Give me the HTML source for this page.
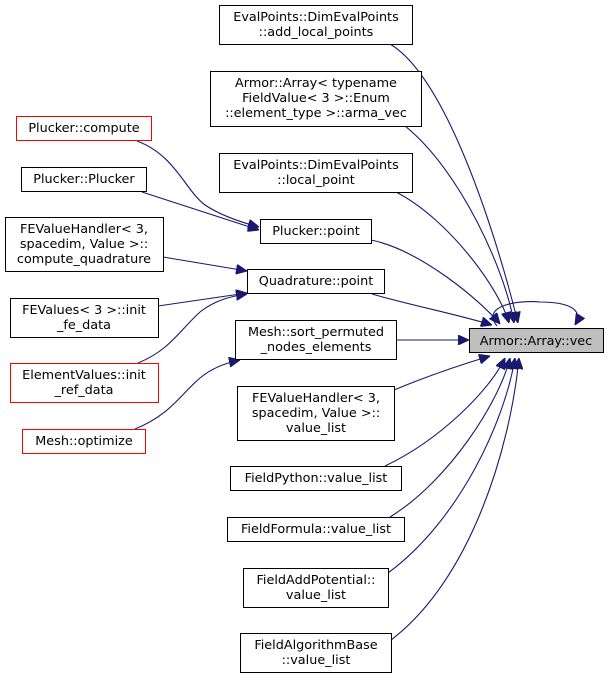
<!DOCTYPE html>
<html><head><meta charset="utf-8"><style>
html,body{margin:0;padding:0;background:#fff;}
svg{display:block;}
text{font-family:"DejaVu Sans","Liberation Sans",sans-serif;font-size:12.8px;fill:#000;}
</style></head><body>
<svg width="609" height="680" viewBox="0 0 609 680" xmlns="http://www.w3.org/2000/svg">
<defs>
<marker id="a" markerWidth="11" markerHeight="10" refX="11" refY="5" orient="auto" markerUnits="userSpaceOnUse">
<path d="M0,0 L11,5 L0,10 Z" fill="#191970" stroke="#191970"/>
</marker>
</defs>
<g fill="none" stroke="#191970" stroke-width="1.1" marker-end="url(#a)">
<path d="M390,44 C450,80 500,250 518,323"/>
<path d="M405,126 C460,170 505,270 514,323"/>
<path d="M396,192 C450,220 500,290 509,323"/>
<path d="M371,240 C420,250 480,300 500,324"/>
<path d="M372,294 C410,305 460,315 492,325"/>
<path d="M396,340 L469,340"/>
<path d="M394,390 C430,375 460,365 490,356"/>
<path d="M385,466 C440,440 490,390 505,358"/>
<path d="M390,517 C450,480 500,400 510,358"/>
<path d="M388,573 C460,520 505,420 515,358"/>
<path d="M391,640 C470,580 510,450 519,358"/>
<path d="M497,326 C480,305 520,300 540,302 C565,302 585,308 575,325"/>
<path d="M137,141 C175,155 185,190 205,205 C220,215 240,222 259,227"/>
<path d="M142,192 L259,230"/>
<path d="M163,257 L247,271"/>
<path d="M158,306 L247,293"/>
<path d="M138,363 C170,350 180,330 200,312 C215,300 232,296 247,294"/>
<path d="M135,429 C170,415 180,395 200,378 C212,368 225,363 240,360"/>
</g>
<g stroke-width="1" fill="#fff">
<rect x="219.5" y="5.5" width="193" height="39" stroke="#000"/>
<rect x="210.5" y="71.5" width="211" height="55" stroke="#000"/>
<rect x="219.5" y="153.5" width="193" height="39" stroke="#000"/>
<rect x="16.5" y="116.5" width="135" height="24" stroke="#ff0000"/>
<rect x="21.5" y="167.5" width="125" height="24" stroke="#000"/>
<rect x="260.5" y="219.5" width="111" height="24" stroke="#000"/>
<rect x="5.5" y="217.5" width="158" height="54" stroke="#000"/>
<rect x="247.5" y="269.5" width="137" height="24" stroke="#000"/>
<rect x="10.5" y="298.5" width="148" height="39" stroke="#000"/>
<rect x="235.5" y="320.5" width="161" height="39" stroke="#000"/>
<rect x="10.5" y="363.5" width="148" height="39" stroke="#ff0000"/>
<rect x="22.5" y="429.5" width="123" height="24" stroke="#ff0000"/>
<rect x="237.5" y="386.5" width="157" height="54" stroke="#000"/>
<rect x="230.5" y="466.5" width="171" height="24" stroke="#000"/>
<rect x="227.5" y="517.5" width="177" height="24" stroke="#000"/>
<rect x="243.5" y="568.5" width="145" height="39" stroke="#000"/>
<rect x="240.5" y="633.5" width="151" height="39" stroke="#000"/>
<rect x="469.5" y="328.5" width="134" height="24" stroke="#000" fill="#bfbfbf"/>
</g>
<g text-anchor="middle">
<text x="316" y="21">EvalPoints::DimEvalPoints</text>
<text x="316" y="36">::add_local_points</text>
<text x="316" y="87">Armor::Array&lt; typename</text>
<text x="316" y="102">FieldValue&lt; 3 &gt;::Enum</text>
<text x="316" y="117">::element_type &gt;::arma_vec</text>
<text x="316" y="169">EvalPoints::DimEvalPoints</text>
<text x="316" y="184">::local_point</text>
<text x="84" y="132">Plucker::compute</text>
<text x="84" y="183">Plucker::Plucker</text>
<text x="316" y="235">Plucker::point</text>
<text x="84" y="233">FEValueHandler&lt; 3,</text>
<text x="84" y="248">spacedim, Value &gt;::</text>
<text x="84" y="263">compute_quadrature</text>
<text x="316" y="285">Quadrature::point</text>
<text x="84" y="314">FEValues&lt; 3 &gt;::init</text>
<text x="84" y="329">_fe_data</text>
<text x="316" y="336">Mesh::sort_permuted</text>
<text x="316" y="351">_nodes_elements</text>
<text x="84" y="379">ElementValues::init</text>
<text x="84" y="394">_ref_data</text>
<text x="84" y="445">Mesh::optimize</text>
<text x="316" y="402">FEValueHandler&lt; 3,</text>
<text x="316" y="417">spacedim, Value &gt;::</text>
<text x="316" y="432">value_list</text>
<text x="316" y="482">FieldPython::value_list</text>
<text x="316" y="533">FieldFormula::value_list</text>
<text x="316" y="584">FieldAddPotential::</text>
<text x="316" y="599">value_list</text>
<text x="316" y="649">FieldAlgorithmBase</text>
<text x="316" y="664">::value_list</text>
<text x="536" y="345">Armor::Array::vec</text>
</g>
</svg>
</body></html>
